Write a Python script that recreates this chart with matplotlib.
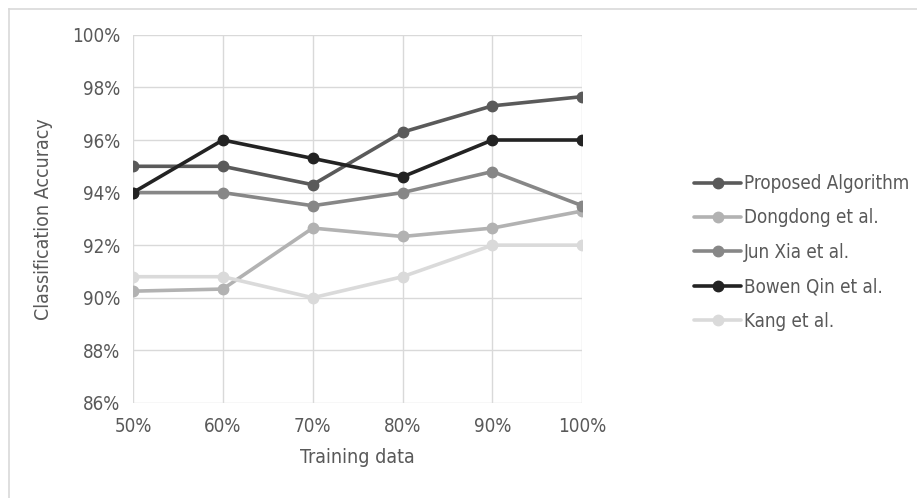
import matplotlib
matplotlib.use("Agg")
import matplotlib.pyplot as plt
from matplotlib.lines import Line2D
from matplotlib.ticker import FuncFormatter

# training data share (%) and accuracy (%) per method
training = [50, 60, 70, 80, 90, 100]
proposed = [95.0, 95.0, 94.3, 96.3, 97.3, 97.65]
dongdong = [90.25, 90.33, 92.65, 92.33, 92.65, 93.3]
jun_xia = [94.0, 94.0, 93.5, 94.0, 94.8, 93.5]
bowen_qin = [94.0, 96.0, 95.3, 94.6, 96.0, 96.0]
kang = [90.8, 90.8, 90.0, 90.8, 92.0, 92.0]

series = [
    ("Proposed Algorithm", proposed, "#5a5a5a"),
    ("Dongdong et al.", dongdong, "#b2b2b2"),
    ("Jun Xia et al.", jun_xia, "#878787"),
    ("Bowen Qin et al.", bowen_qin, "#232323"),
    ("Kang et al.", kang, "#dadada"),
]

plt.rcParams['font.family'] = ['DejaVu Sans']
plt.rcParams['font.stretch'] = 'condensed'
text_col = "#595959"

fig = plt.figure(figsize=(9.17, 4.98), dpi=100)
ax = fig.add_axes([0.145, 0.191, 0.490, 0.739])

for name, vals, col in series:
    ax.plot(training, vals, color=col, lw=2.6, marker="o", ms=7.5,
            label=name, solid_capstyle="round", zorder=3)

ax.set_xlim(50, 100)
ax.set_ylim(86, 100)
ax.set_xticks(training)
ax.set_yticks(range(86, 101, 2))
ax.xaxis.set_major_formatter(FuncFormatter(lambda v, p: f"{v:.0f}%"))
ax.yaxis.set_major_formatter(FuncFormatter(lambda v, p: f"{v:.0f}%"))
ax.grid(True, color="#d9d9d9", lw=1.0, zorder=0)
ax.set_axisbelow(True)
for s in ax.spines.values():
    s.set_visible(False)
ax.tick_params(length=0, labelsize=13.5, colors=text_col)
ax.tick_params(axis="x", pad=10)
ax.tick_params(axis="y", pad=9)
ax.set_xlabel("Training data", fontsize=14, color=text_col, labelpad=9)
ax.set_ylabel("Classification Accuracy", fontsize=14, color=text_col, labelpad=14)

leg = ax.legend(loc="center left", bbox_to_anchor=(1.212, 0.409), frameon=False,
                fontsize=13.5, labelcolor=text_col, handlelength=2.5,
                handletextpad=0.15, labelspacing=0.82)

# chart area border (left and top edges visible)
bx, by = 8.5 / 917, 1 - 9.5 / 498
fig.lines.append(Line2D([bx, bx], [0, by], transform=fig.transFigure,
                        color="#d9d9d9", lw=1.2))
fig.lines.append(Line2D([bx, 1], [by, by], transform=fig.transFigure,
                        color="#d9d9d9", lw=1.2))

fig.savefig("out.png", dpi=100)
